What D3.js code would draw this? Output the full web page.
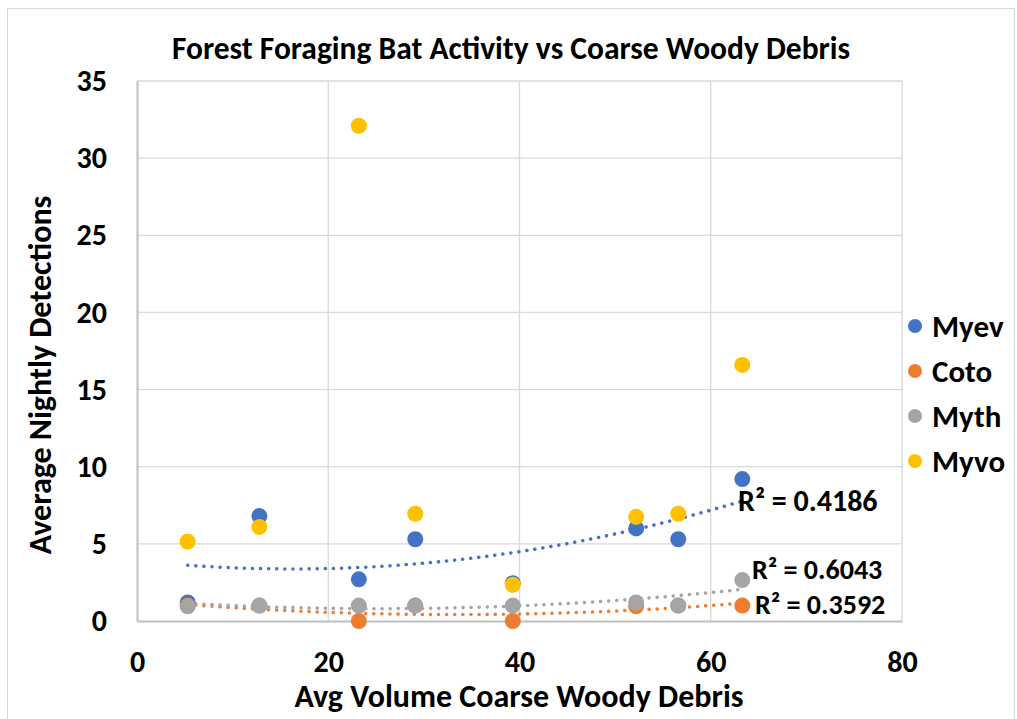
<!DOCTYPE html>
<html>
<head>
<meta charset="utf-8">
<script src="https://cdn.jsdelivr.net/npm/d3@7"></script>
<style>
  body { margin: 0; background: #fff; }
  svg text { font-family: Carlito, Lato, "Open Sans", sans-serif; font-weight: bold; fill: #000; }
</style>
</head>
<body>
<svg id="chart" width="1017" height="719"></svg>
<script>
// data
const volume = [5.3, 12.8, 23.2, 29.1, 39.3, 52.2, 56.6, 63.3];
const myev = [1.2, 6.8, 2.7, 5.3, 2.45, 6.0, 5.3, 9.2];
const coto = [1.0, 1.0, 0, 1.0, 0, 0.95, 1.0, 1.0];
const myth = [0.95, 1.0, 1.0, 1.0, 1.0, 1.2, 1.0, 2.65];
const myvo = [5.15, 6.1, 32.1, 6.95, 2.35, 6.75, 6.95, 16.6];

const seriesNames = ["Myev", "Coto", "Myth", "Myvo"];
const seriesColors = ["#4472c4", "#ed7d31", "#a5a5a5", "#ffc000"];
const seriesValues = [myev, coto, myth, myvo];
const trendR2 = ["0.4186", "0.3592", "0.6043", null];

const xTicks = [0, 20, 40, 60, 80];
const yTicks = [0, 5, 10, 15, 20, 25, 30, 35];

const svg = d3.select("#chart");
const margin = { top: 81, right: 115, bottom: 98, left: 137 };
const width = 1017 - margin.left - margin.right;
const height = 719 - margin.top - margin.bottom;

// outer chart border
svg.append("rect")
    .attr("x", 7.5).attr("y", 8.5)
    .attr("width", 1007).attr("height", 720)
    .attr("fill", "none").attr("stroke", "#d9d9d9");

const x = d3.scaleLinear().domain([0, 80]).range([0, width]);
const y = d3.scaleLinear().domain([0, 35]).range([height, 0]);

const g = svg.append("g").attr("transform", `translate(${margin.left},${margin.top})`);

// gridlines
g.selectAll(".hgrid").data(yTicks.slice(1)).enter().append("line")
    .attr("x1", 0).attr("x2", width)
    .attr("y1", d => y(d)).attr("y2", d => y(d))
    .attr("stroke", "#d9d9d9").attr("stroke-width", 1.3);
g.selectAll(".vgrid").data(xTicks.slice(1)).enter().append("line")
    .attr("y1", 0).attr("y2", height)
    .attr("x1", d => x(d)).attr("x2", d => x(d))
    .attr("stroke", "#d9d9d9").attr("stroke-width", 1.3);

// axes
const xAxis = g.append("g").attr("transform", `translate(0,${height})`)
    .call(d3.axisBottom(x).tickValues(xTicks).tickSize(0).tickPadding(30));
const yAxis = g.append("g")
    .call(d3.axisLeft(y).tickValues(yTicks).tickSize(0).tickPadding(30));
[xAxis, yAxis].forEach(a => {
    a.select(".domain").attr("stroke", "#bfbfbf").attr("stroke-width", 2);
    a.selectAll("text").style("font-size", "30px").attr("font-family", null);
});

// quadratic least-squares trendline
function quadFit(xs, ys) {
    let s = [0, 0, 0, 0, 0], t = [0, 0, 0];
    xs.forEach((xv, i) => {
        for (let k = 0; k <= 4; k++) s[k] += Math.pow(xv, k);
        for (let k = 0; k <= 2; k++) t[k] += Math.pow(xv, k) * ys[i];
    });
    const A = [[s[0], s[1], s[2], t[0]], [s[1], s[2], s[3], t[1]], [s[2], s[3], s[4], t[2]]];
    for (let i = 0; i < 3; i++) {
        for (let j = i + 1; j < 3; j++) {
            const f = A[j][i] / A[i][i];
            for (let k = i; k < 4; k++) A[j][k] -= f * A[i][k];
        }
    }
    const c = [0, 0, 0];
    for (let i = 2; i >= 0; i--) {
        let v = A[i][3];
        for (let k = i + 1; k < 3; k++) v -= A[i][k] * c[k];
        c[i] = v / A[i][i];
    }
    return xv => c[0] + c[1] * xv + c[2] * xv * xv;
}

const line = d3.line().x(d => x(d[0])).y(d => y(d[1]));
const xMin = d3.min(volume), xMax = d3.max(volume);

seriesValues.forEach((vals, si) => {
    if (!trendR2[si]) return;
    const f = quadFit(volume, vals);
    const pts = d3.range(0, 101).map(i => {
        const xv = xMin + (xMax - xMin) * i / 100;
        return [xv, f(xv)];
    });
    g.append("path")
        .datum(pts)
        .attr("d", line)
        .attr("fill", "none")
        .attr("stroke", seriesColors[si])
        .attr("stroke-width", 3.5)
        .attr("stroke-linecap", "round")
        .attr("stroke-dasharray", "0.1 8");
});

// points
seriesValues.forEach((vals, si) => {
    g.selectAll(".pt" + si)
        .data(vals)
        .enter().append("circle")
        .attr("cx", (d, i) => x(volume[i]))
        .attr("cy", d => y(d))
        .attr("r", 8)
        .attr("fill", seriesColors[si]);
});

// R² labels
const r2Pos = { "0": [738, 500, 30], "1": [755, 604, 28], "2": [752, 569, 28] };
trendR2.forEach((r, si) => {
    if (!r) return;
    const p = r2Pos[si];
    svg.append("text")
        .attr("x", p[0]).attr("y", p[1])
        .attr("dy", "0.35em")
        .style("font-size", p[2] + "px")
        .text("R² = " + r);
});

// title and axis titles
svg.append("text")
    .attr("x", 511).attr("y", 48)
    .attr("text-anchor", "middle").attr("dy", "0.35em")
    .style("font-size", "31.5px")
    .text("Forest Foraging Bat Activity vs Coarse Woody Debris");
svg.append("text")
    .attr("x", 519).attr("y", 696)
    .attr("text-anchor", "middle").attr("dy", "0.35em")
    .style("font-size", "32px")
    .text("Avg Volume Coarse Woody Debris");
svg.append("text")
    .attr("transform", "translate(40,375) rotate(-90)")
    .attr("text-anchor", "middle").attr("dy", "0.35em")
    .style("font-size", "32px")
    .text("Average Nightly Detections");

// legend
const legend = svg.append("g").attr("transform", "translate(915,326)");
seriesNames.forEach((name, i) => {
    const row = legend.append("g").attr("transform", `translate(0,${i * 45})`);
    row.append("circle").attr("r", 7).attr("fill", seriesColors[i]);
    row.append("text").attr("x", 17).attr("dy", "0.35em")
        .style("font-size", "31px").text(name);
});
</script>
</body>
</html>
